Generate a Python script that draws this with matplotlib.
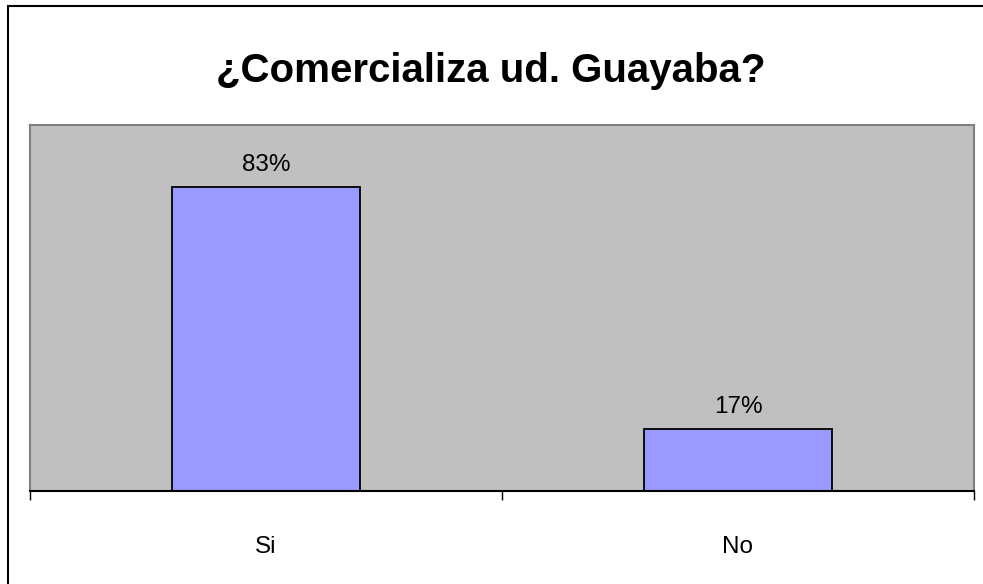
import matplotlib.pyplot as plt
from matplotlib.patches import Rectangle

plt.rcParams['font.family'] = ['Liberation Sans', 'DejaVu Sans']

categorias = ['Si', 'No']
porcentajes = [0.83, 0.17]
etiquetas = ['83%', '17%']
titulo = '¿Comercializa ud. Guayaba?'

fig = plt.figure(figsize=(9.83, 5.84), dpi=100)
fig.patch.set_facecolor('white')

# marco exterior del grafico
fig.patches.append(Rectangle((8 / 983, -0.05), 1.1, (584 - 6) / 584 + 0.05,
                             transform=fig.transFigure, fill=False,
                             edgecolor='black', linewidth=1.5, zorder=0))

ax = fig.add_axes([30 / 983, 93 / 584, 944 / 983, 366 / 584])
ax.set_facecolor('#C0C0C0')

x = list(range(len(categorias)))
ax.bar(x, porcentajes, width=0.4, color='#9999FF', edgecolor='black', linewidth=1.3)

for xi, v, t in zip(x, porcentajes, etiquetas):
    ax.text(xi, v + 0.03, t, ha='center', va='bottom', fontsize=17.5)

ax.set_xlim(-0.5, 1.5)
ax.set_ylim(0, 1)

ax.set_xticks([-0.5, 0.5, 1.5])
ax.set_xticklabels([])
ax.set_xticks(x, minor=True)
ax.set_xticklabels(categorias, minor=True, fontsize=17.5)
ax.tick_params(axis='x', which='major', length=6.5, width=1, color='black', direction='out')
ax.tick_params(axis='x', which='minor', length=0, pad=32.5)
ax.set_yticks([])

for lado in ['left', 'top', 'right']:
    ax.spines[lado].set_color('#808080')
    ax.spines[lado].set_linewidth(1.5)
ax.spines['bottom'].set_color('black')
ax.spines['bottom'].set_linewidth(1.5)

fig.text(491 / 983, 1 - 71 / 584, titulo, ha='center', va='center',
         fontsize=29, fontweight='bold')

fig.savefig('out.png', dpi=100)
